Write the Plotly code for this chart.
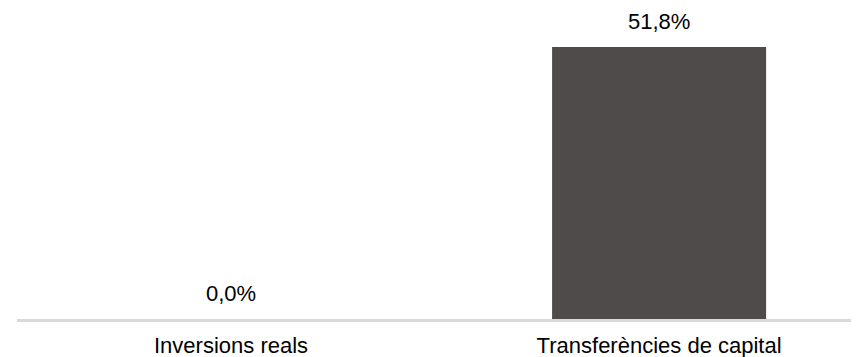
import plotly.graph_objects as go

categories = ["Inversions reals", "Transferències de capital"]
values = [0.0, 51.8]
labels = [f"{v:.1f}%".replace(".", ",") for v in values]

# page body has an 8px default margin, so the figure is 8px smaller on each axis
fig = go.Figure()
fig.add_trace(go.Bar(
    x=categories, y=values,
    marker=dict(color="#4f4b4a", line=dict(width=0)),
    width=0.5,
    hoverinfo="skip",
))

for c, v, t in zip(categories, values, labels):
    fig.add_annotation(x=c, y=v, text=t, showarrow=False, yanchor="bottom",
                       yshift=11, font=dict(family="Liberation Sans, Arial", size=22, color="#000000"))

fig.update_layout(
    width=851, height=349,
    margin=dict(l=9, r=0, t=2, b=38, autoexpand=False),
    paper_bgcolor="white", plot_bgcolor="white",
    showlegend=False,
    font=dict(family="Liberation Sans, Arial", size=22, color="#000000"),
    xaxis=dict(range=[-0.5, 1.467], showline=True, linecolor="#d9d9d9", linewidth=3,
               automargin=False,
               showgrid=False, zeroline=False, ticks="outside", ticklen=5, tickcolor="rgba(0,0,0,0)",
               tickfont=dict(size=22, color="#000000")),
    yaxis=dict(range=[0, 58.85], visible=False, showgrid=False, zeroline=False, automargin=False),
)

fig.write_html("out.html")
